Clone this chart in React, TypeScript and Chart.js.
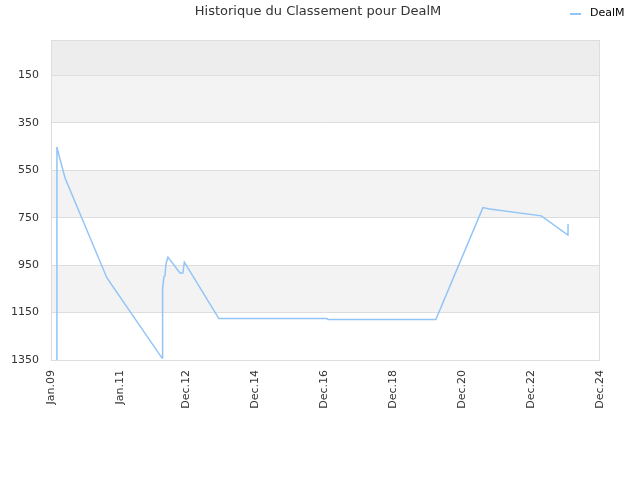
import { useEffect, useRef } from "react";
import { Chart, registerables } from "chart.js";
import type { ChartConfiguration, Plugin } from "chart.js";

Chart.register(...registerables);

const TITLE = "Historique du Classement pour DealM";
const SERIES_NAME = "DealM";
const LINE_COLOR = "#92c5f7";
const FONT = "'DejaVu Sans', sans-serif";

// dates + rank
const DATES = [
  "2009-03-01", "2009-03-03", "2009-03-08", "2009-05-28", "2010-08-15",
  "2012-03-20", "2012-03-22", "2012-03-30", "2012-04-10", "2012-04-20",
  "2012-05-01", "2012-05-22", "2012-09-27", "2012-10-28", "2012-11-13",
  "2013-11-13", "2017-01-01", "2017-01-10", "2020-02-28", "2021-07-09",
  "2021-09-19", "2023-03-19", "2023-12-27", "2023-12-28",
];
const RANKS = [
  1350, 451, 462, 582, 1004,
  1342, 1097, 1050, 998, 996,
  945, 916, 983, 983, 937,
  1175, 1175, 1179, 1179, 707,
  713, 742, 823, 776,
];

const Y_TICKS = [150, 350, 550, 750, 950, 1150, 1350];
const X_TICK_DATES = [
  "2009-01-01", "2011-01-01", "2012-12-01", "2014-12-01", "2016-12-01",
  "2018-12-01", "2020-12-01", "2022-12-01", "2024-12-01",
];
const X_TICK_LABELS = [
  "Jan.09", "Jan.11", "Dec.12", "Dec.14", "Dec.16", "Dec.18", "Dec.20", "Dec.22", "Dec.24",
];

// shaded bands behind the plot [from, to, colour]
const BANDS: [number, number, string][] = [
  [0, 150, "#ededed"],
  [150, 350, "#f3f3f3"],
  [550, 750, "#f3f3f3"],
  [950, 1150, "#f3f3f3"],
];

const toYear = (d: string) => {
  const [y, m, day] = d.split("-").map(Number);
  return y + (m - 1) / 12 + (day - 1) / 365;
};

const bandsPlugin: Plugin<"line"> = {
  id: "bands",
  beforeDraw(chart) {
    const { ctx, chartArea: a, scales } = chart;
    const y = scales.y;
    ctx.save();
    for (const [from, to, color] of BANDS) {
      const y1 = y.getPixelForValue(from);
      const y2 = y.getPixelForValue(to);
      ctx.fillStyle = color;
      ctx.fillRect(a.left, Math.min(y1, y2), a.right - a.left, Math.abs(y2 - y1));
    }
    ctx.restore();
  },
  afterDraw(chart) {
    const { ctx, chartArea: a } = chart;
    ctx.save();
    ctx.strokeStyle = "#dddddd";
    ctx.lineWidth = 1;
    ctx.strokeRect(a.left + 0.5, a.top + 0.5, a.right - a.left - 1, a.bottom - a.top);

    ctx.fillStyle = "#333333";
    ctx.font = `13px ${FONT}`;
    ctx.textAlign = "center";
    ctx.textBaseline = "middle";
    ctx.fillText(TITLE, 318, 12);

    ctx.strokeStyle = LINE_COLOR;
    ctx.lineWidth = 2;
    ctx.beginPath();
    ctx.moveTo(570, 14);
    ctx.lineTo(581, 14);
    ctx.stroke();
    ctx.fillStyle = "#000000";
    ctx.font = `11px ${FONT}`;
    ctx.textAlign = "left";
    ctx.fillText(SERIES_NAME, 590, 13);
    ctx.restore();
  },
};

export default function App() {
  const canvasRef = useRef<HTMLCanvasElement | null>(null);
  const chartRef = useRef<Chart<"line"> | null>(null);

  useEffect(() => {
    document.body.style.margin = "0";
    if (!canvasRef.current) return;
    chartRef.current?.destroy();

    const xTicks = X_TICK_DATES.map(toYear);

    const config: ChartConfiguration<"line"> = {
      type: "line",
      data: {
        datasets: [
          {
            label: SERIES_NAME,
            data: DATES.map((d, i) => ({ x: toYear(d), y: RANKS[i] })),
            borderColor: LINE_COLOR,
            borderWidth: 1.5,
            pointRadius: 0,
            tension: 0,
            fill: false,
          },
        ],
      },
      options: {
        animation: false,
        responsive: false,
        layout: { padding: { top: 40, right: 40, left: 0, bottom: 0 } },
        plugins: {
          legend: { display: false },
          title: { display: false },
          tooltip: { enabled: false },
        },
        scales: {
          x: {
            type: "linear",
            min: xTicks[0],
            max: xTicks[xTicks.length - 1],
            afterBuildTicks: (scale) => {
              scale.ticks = xTicks.map((v) => ({ value: v }));
            },
            afterFit: (scale) => {
              scale.height = 120;
            },
            grid: { display: false, drawTicks: false },
            border: { display: false },
            ticks: {
              autoSkip: false,
              minRotation: 90,
              maxRotation: 90,
              padding: 10,
              color: "#333333",
              font: { family: FONT, size: 11 },
              callback: (v) => {
                const i = xTicks.indexOf(Number(v));
                return i >= 0 ? X_TICK_LABELS[i] : "";
              },
            },
          },
          y: {
            reverse: true,
            min: 0,
            max: 1350,
            afterBuildTicks: (scale) => {
              scale.ticks = Y_TICKS.map((v) => ({ value: v }));
            },
            afterFit: (scale) => {
              scale.width = 51;
            },
            grid: { color: "#dddddd", drawTicks: false },
            border: { display: false },
            ticks: {
              padding: 12,
              color: "#333333",
              font: { family: FONT, size: 11 },
              callback: (v) => String(v),
            },
          },
        },
      },
      plugins: [bandsPlugin],
    };

    chartRef.current = new Chart(canvasRef.current, config);
    return () => chartRef.current?.destroy();
  }, []);

  return (
    <div style={{ width: 640, height: 480, background: "#fff" }}>
      <canvas ref={canvasRef} width={640} height={480} />
    </div>
  );
}
